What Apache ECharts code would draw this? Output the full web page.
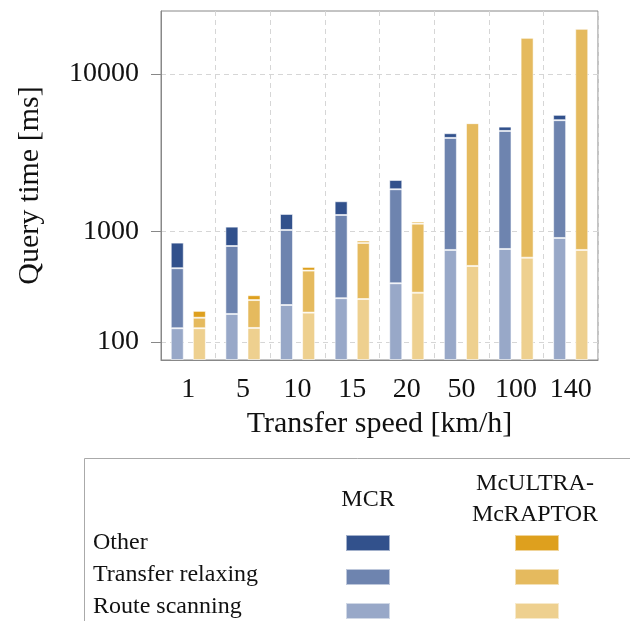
<!DOCTYPE html>
<html>
<head>
<meta charset="utf-8">
<script src="https://cdn.jsdelivr.net/npm/echarts@6/dist/echarts.min.js"></script>
<style>html,body{margin:0;padding:0;background:#fff}#c{width:630px;height:621px}</style>
</head>
<body>
<div id="c"></div>
<script>
// ---- data (query times in ms) ----
const categories = ['1', '5', '10', '15', '20', '50', '100', '140'];
const mcrRoute    = [140, 195, 238, 276, 377, 720, 733, 895];
const mcrTransfer = [369, 579, 793, 1056, 1646, 3610, 4037, 4625];
const mcrOther    = [314, 318, 324, 338, 314, 290, 290, 410];
const mcuRoute    = [140, 141, 201, 271, 310, 532, 623, 720];
const mcuTransfer = [39, 124, 285, 547, 840, 4770, 14740, 16300];
const mcuOther    = [30, 29, 36, 35, 40, 40, 40, 40];
const yTickValues = [100, 1000, 10000];

// ---- the axis uses a compressive power scale ----
const P = 0.1553, A = 1.9012, B = 0.5577;
const fwd = v => (Math.pow(v, P) - A) / B;
const inv = u => Math.pow(u * B + A, 1 / P);

// stacked segments expressed in scaled units
function segs(parts) {
  const out = parts.map(() => []);
  for (let i = 0; i < categories.length; i++) {
    let cum = 0, prevU = 0;
    parts.forEach((arr, k) => {
      cum += arr[i];
      const u = fwd(cum);
      out[k].push(+(u - prevU).toFixed(5));
      prevU = u;
    });
  }
  return out;
}
const [mr, mt, mo] = segs([mcrRoute, mcrTransfer, mcrOther]);
const [ur, ut, uo] = segs([mcuRoute, mcuTransfer, mcuOther]);

const FONT = 'Liberation Serif';
const colors = {
  mo: '#32518c', mt: '#6e84af', mr: '#98a8c8',
  uo: '#dea01e', ut: '#e5ba5e', ur: '#eed08f'
};
function bar(name, stack, data, color) {
  return {
    name, type: 'bar', stack, data, barWidth: 13, barGap: '70%',
    itemStyle: { color, borderColor: 'rgba(255,255,255,0.55)', borderWidth: 1 },
    emphasis: { disabled: true }
  };
}
const LF = '24px "Liberation Serif"';

const chart = echarts.init(document.getElementById('c'), null, { renderer: 'canvas' });
chart.setOption({
  animation: false,
  grid: { left: 161, right: 32, top: 11, bottom: 261, show: true, borderColor: '#888', borderWidth: 1 },
  xAxis: {
    type: 'category', data: categories,
    axisLine: { lineStyle: { color: '#888' } },
    axisTick: { length: 11, lineStyle: { color: '#888' } },
    axisLabel: { fontFamily: FONT, fontSize: 28, color: '#111', margin: 16 },
    splitLine: { show: true, lineStyle: { color: '#d6d6d6', type: [5, 4] } },
    name: 'Transfer speed [km/h]', nameLocation: 'middle', nameGap: 44,
    nameTextStyle: { fontFamily: FONT, fontSize: 30, color: '#111' }
  },
  yAxis: {
    type: 'value', min: 0, max: 349 / 70, interval: 1,
    axisLine: { show: true, lineStyle: { color: '#888' } },
    axisTick: { show: true, length: 10, customValues: yTickValues.map(fwd), lineStyle: { color: '#888' } },
    axisLabel: {
      customValues: yTickValues.map(fwd),
      formatter: u => String(Math.round(inv(u))),
      fontFamily: FONT, fontSize: 28, color: '#111', margin: 22
    },
    splitLine: { show: true, lineStyle: { color: '#d6d6d6', type: [5, 4] } },
    name: 'Query time [ms]', nameLocation: 'middle', nameGap: 116,
    nameTextStyle: { fontFamily: FONT, fontSize: 30, color: '#111' }
  },
  legend: [
    {
      data: ['MCR Other', 'MCR Transfer relaxing', 'MCR Route scanning'],
      orient: 'vertical', left: 345, top: 534, itemWidth: 44, itemHeight: 16, itemGap: 16,
      icon: 'rect', formatter: () => '', textStyle: { fontSize: 8 }, selectedMode: false, padding: 0
    },
    {
      data: ['McULTRA Other', 'McULTRA Transfer relaxing', 'McULTRA Route scanning'],
      orient: 'vertical', left: 514, top: 534, itemWidth: 44, itemHeight: 16, itemGap: 16,
      icon: 'rect', formatter: () => '', textStyle: { fontSize: 8 }, selectedMode: false, padding: 0
    }
  ],
  graphic: [
    { type: 'rect', shape: { x: 84.5, y: 458.5, width: 700, height: 400 }, style: { fill: 'none', stroke: '#aaa', lineWidth: 1 }, silent: true },
    { type: 'text', style: { x: 368, y: 500, text: 'MCR', font: LF, fill: '#111', align: 'center', verticalAlign: 'middle' } },
    { type: 'text', style: { x: 535, y: 484, text: 'McULTRA-', font: LF, fill: '#111', align: 'center', verticalAlign: 'middle' } },
    { type: 'text', style: { x: 535, y: 515, text: 'McRAPTOR', font: LF, fill: '#111', align: 'center', verticalAlign: 'middle' } },
    { type: 'text', style: { x: 93, y: 543, text: 'Other', font: LF, fill: '#111', align: 'left', verticalAlign: 'middle' } },
    { type: 'text', style: { x: 93, y: 575, text: 'Transfer relaxing', font: LF, fill: '#111', align: 'left', verticalAlign: 'middle' } },
    { type: 'text', style: { x: 93, y: 607, text: 'Route scanning', font: LF, fill: '#111', align: 'left', verticalAlign: 'middle' } }
  ],
  series: [
    bar('MCR Route scanning', 'mcr', mr, colors.mr),
    bar('MCR Transfer relaxing', 'mcr', mt, colors.mt),
    bar('MCR Other', 'mcr', mo, colors.mo),
    bar('McULTRA Route scanning', 'mcu', ur, colors.ur),
    bar('McULTRA Transfer relaxing', 'mcu', ut, colors.ut),
    bar('McULTRA Other', 'mcu', uo, colors.uo)
  ]
});
</script>
</body>
</html>
